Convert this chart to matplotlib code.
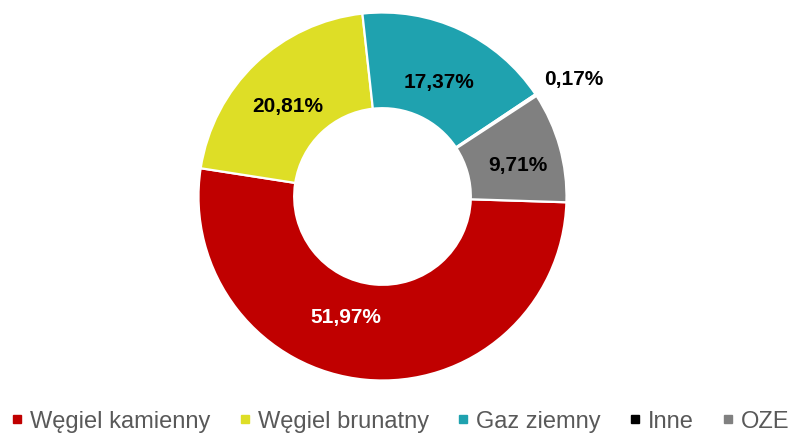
import numpy as np
import matplotlib
matplotlib.use("Agg")
import matplotlib.pyplot as plt
from matplotlib.lines import Line2D

categories = ["Węgiel kamienny", "Węgiel brunatny", "Gaz ziemny", "Inne", "OZE"]
values = [51.97, 20.81, 17.37, 0.17, 9.71]
labels = ["51,97%", "20,81%", "17,37%", "0,17%", "9,71%"]
colors = ["#C00000", "#DEDE26", "#1FA2AF", "#000000", "#808080"]
label_colors = ["white", "black", "black", "black", "black"]

plt.rcParams['font.family'] = ['Liberation Sans', 'DejaVu Sans']

W, H = 792, 435
fig = plt.figure(figsize=(W / 100, H / 100), dpi=100)
cx, cy, R = 382.5, 197.5, 184
ax = fig.add_axes([(cx - R) / W, (H - cy - R) / H, 2 * R / W, 2 * R / H])

start = -1.8
wedges, _ = ax.pie(values, colors=colors, startangle=start, counterclock=False,
                   radius=1, wedgeprops=dict(width=0.52, edgecolor='white', linewidth=1.6))
ax.set_xlim(-1, 1)
ax.set_ylim(-1, 1)
ax.set_aspect('equal')
ax.axis('off')

label_r = [0.672, 0.719, 0.704, 1.226, 0.76]
label_dtheta = [-12, 1.9, -0.8, -1.4, -1.6]
for w, lab, col, rr, dt in zip(wedges, labels, label_colors, label_r, label_dtheta):
    mid = np.deg2rad((w.theta1 + w.theta2) / 2 + dt)
    ax.text(rr * np.cos(mid), rr * np.sin(mid), lab, ha='center', va='center_baseline',
            fontsize=15, fontweight='bold', color=col, clip_on=False)

handles = [Line2D([], [], marker='s', linestyle='none', markersize=5.5,
                  markerfacecolor=c, markeredgecolor=c) for c in colors]
fig.legend(handles, categories, loc='center', bbox_to_anchor=(0.5 + 5 / W, 1 - 422 / H),
           ncol=5, frameon=False, fontsize=17, labelcolor='#595959',
           handlelength=0.4, handletextpad=0.35, columnspacing=1.25,
           borderaxespad=0, borderpad=0)

fig.savefig("out.png", dpi=100, facecolor='white')
